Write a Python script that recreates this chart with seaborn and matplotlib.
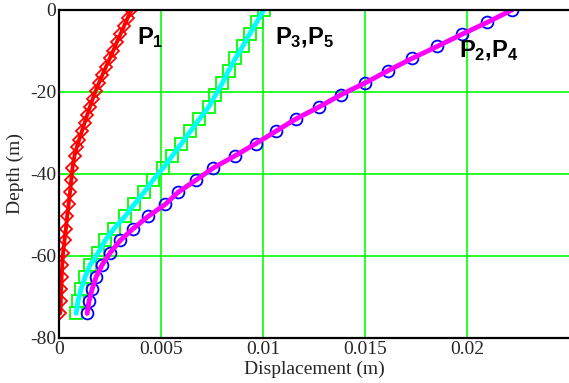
import matplotlib
matplotlib.use("Agg")
import matplotlib.pyplot as plt
import seaborn as sns
import pandas as pd

# ---------------- data ----------------
depth = [0, -3.0, -5.9, -8.9, -11.8, -14.8, -17.8, -20.7, -23.7, -26.6, -29.6, -32.6, -35.5,
         -38.5, -41.4, -44.4, -47.4, -50.3, -53.3, -56.2, -59.2, -62.2, -65.1, -68.1, -71.0, -74.0]

p24_disp = [0.0222, 0.0210, 0.01976, 0.01853, 0.01731, 0.01613, 0.01500, 0.01381, 0.01273,
            0.01160, 0.01062, 0.00964, 0.00865, 0.00757, 0.00674, 0.00585, 0.00521, 0.00438,
            0.00364, 0.00300, 0.00251, 0.00211, 0.00182, 0.00162, 0.00147, 0.00138]

p35_disp = [0.01003, 0.00969, 0.00934, 0.00900, 0.00865, 0.00831, 0.00801, 0.00767, 0.00733,
            0.00688, 0.00644, 0.00600, 0.00556, 0.00511, 0.00462, 0.00418, 0.00369, 0.00324,
            0.00270, 0.00226, 0.00192, 0.00152, 0.00128, 0.00108, 0.00093, 0.00084]

p1_depth = [0, -2.0, -4.0, -5.9, -7.9, -9.9, -11.8, -13.8, -15.8, -17.8, -19.7, -21.7, -23.7,
            -25.6, -27.6, -29.6, -31.6, -33.5, -35.5, -38.5, -41.4, -44.4, -47.4, -50.3, -53.3,
            -56.2, -59.2, -62.2, -65.1, -68.1, -71.0, -74.0]
p1_disp = [0.00355, 0.00336, 0.00318, 0.00301, 0.00283, 0.00266, 0.00249, 0.00231, 0.00213,
           0.00196, 0.00180, 0.00165, 0.00151, 0.00138, 0.00125, 0.00112, 0.00099, 0.00087,
           0.00076, 0.00066, 0.00060, 0.00054, 0.00047, 0.00040, 0.00034, 0.00027, 0.00020,
           0.00016, 0.00013, 0.00011, 0.00009, 0.00006]

x_ticks = [0, 0.005, 0.01, 0.015, 0.02]
x_tick_labels = ["0", "0.005", "0.01", "0.015", "0.02"]
y_ticks = [0, -20, -40, -60, -80]
y_tick_labels = ["0", "-20", "-40", "-60", "-80"]

# ---------------- style ----------------
sns.set_style("white")
plt.rcParams["font.family"] = ["Liberation Serif", "DejaVu Serif"]
plt.rcParams["axes.unicode_minus"] = False
plt.rcParams["mathtext.fontset"] = "custom"
plt.rcParams["mathtext.bf"] = "Liberation Sans:bold"
plt.rcParams["mathtext.rm"] = "Liberation Sans"

fig = plt.figure(figsize=(5.69, 3.83), dpi=100)
ax = fig.add_axes([0.1037, 0.1175, 0.8963, 0.8564])

df24 = pd.DataFrame({"disp": p24_disp, "depth": depth})
df35 = pd.DataFrame({"disp": p35_disp, "depth": depth})
df1 = pd.DataFrame({"disp": p1_disp, "depth": p1_depth})

GREEN = "#00ff00"

# markers first (lines drawn on top)
sns.lineplot(data=df35, x="disp", y="depth", sort=False, estimator=None, ax=ax,
             linestyle="", marker="s", markersize=8.5, mfc="none", mec=GREEN, mew=1.3,
             color=GREEN, zorder=3)
sns.lineplot(data=df24, x="disp", y="depth", sort=False, estimator=None, ax=ax,
             linestyle="", marker="o", markersize=8.5, mfc="none", mec="#0000ff", mew=1.3,
             color="#0000ff", zorder=3)
sns.lineplot(data=df1, x="disp", y="depth", sort=False, estimator=None, ax=ax,
             linestyle="", marker="D", markersize=6.5, mfc="none", mec="#ff0000", mew=1.3,
             color="#ff0000", zorder=3)

# lines
sns.lineplot(data=df35, x="disp", y="depth", sort=False, estimator=None, ax=ax,
             color="#00ffff", linewidth=3.5, zorder=4)
sns.lineplot(data=df24, x="disp", y="depth", sort=False, estimator=None, ax=ax,
             color="#ff00ff", linewidth=3.5, zorder=4)
sns.lineplot(data=df1, x="disp", y="depth", sort=False, estimator=None, ax=ax,
             color="#ff0000", linewidth=2.8, zorder=4)

ax.set_xlim(0, 0.025)
ax.set_ylim(-80, 0)
ax.set_xticks(x_ticks)
ax.set_xticklabels(x_tick_labels)
ax.set_yticks(y_ticks)
ax.set_yticklabels(y_tick_labels)
ax.tick_params(axis="both", length=0, labelsize=14, pad=2)

ax.grid(True, color=GREEN, linewidth=1.2)
ax.set_axisbelow(True)

for side in ["left", "bottom", "top"]:
    ax.spines[side].set_visible(True)
    ax.spines[side].set_color("black")
    ax.spines[side].set_linewidth(1.6)
    ax.spines[side].set_zorder(5)
ax.spines["right"].set_visible(False)

ax.set_xlabel("Displacement (m)", fontsize=14, labelpad=2)
ax.set_ylabel("Depth (m)", fontsize=14, labelpad=4)

lab_kw = dict(fontsize=17, ha="left", va="center", zorder=6, color="black")
ax.text(0.00380, -6.8, r"$\mathbf{P_1}$", **lab_kw)
ax.text(0.01060, -6.8, r"$\mathbf{P_3{,}P_5}$", **lab_kw)
ax.text(0.01960, -9.8, r"$\mathbf{P_2{,}P_4}$", **lab_kw)

fig.savefig("out.png", dpi=100)
